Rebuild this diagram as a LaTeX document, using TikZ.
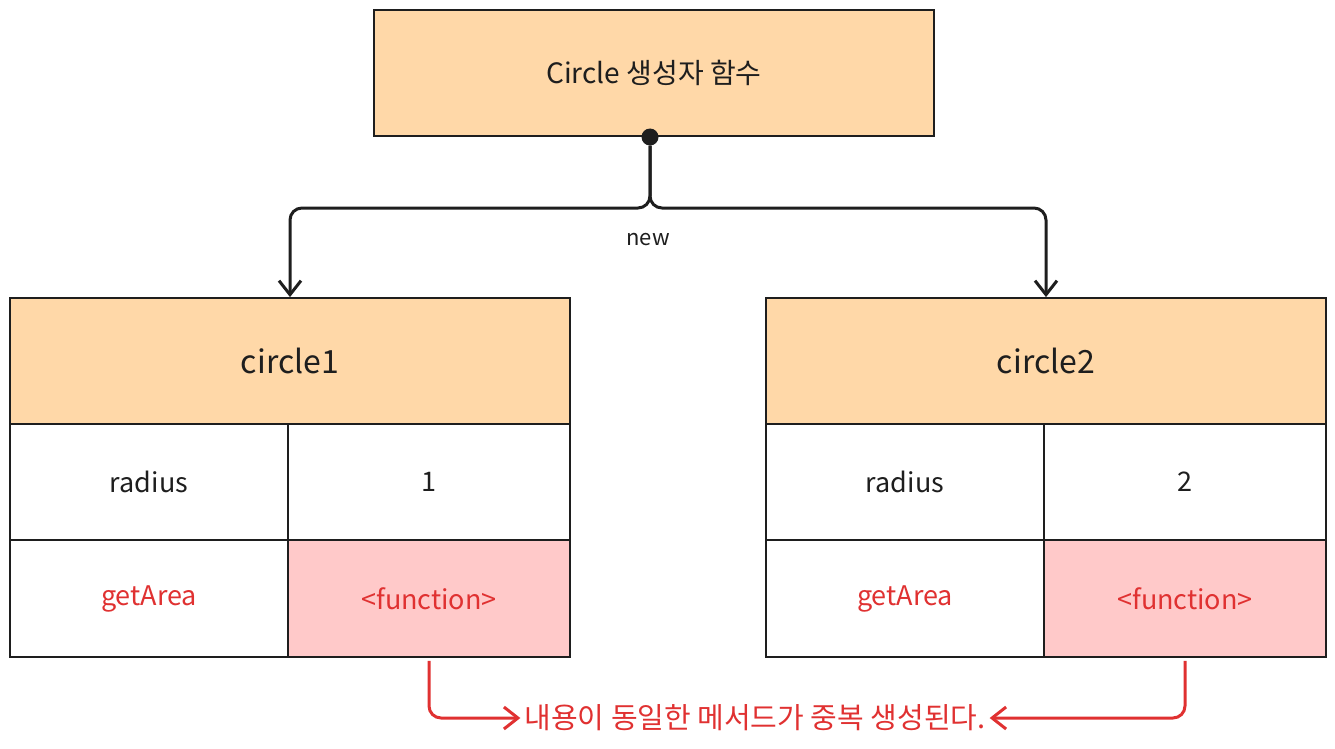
\documentclass[tikz,border=0pt]{standalone}
\usepackage{fontspec}
\setmainfont{Noto Sans CJK KR}
\usetikzlibrary{arrows.meta}
\definecolor{oranye}{HTML}{FFD8A8}
\definecolor{merahmuda}{HTML}{FFC9C9}
\definecolor{merah}{HTML}{E03131}
\definecolor{hitam}{HTML}{1E1E1E}
\begin{document}
\begin{tikzpicture}[x=1pt, y=-1pt,
      kotak/.style={draw=hitam, line width=1.8pt, fill=oranye, text=hitam, inner sep=0pt,
        minimum width=560pt, minimum height=126pt},
      sel/.style={draw=hitam, line width=1.8pt, fill=white, text=hitam, inner sep=0pt,
        minimum height=116pt, font=\fontsize{27}{31}\selectfont},
      panah/.style={draw=hitam, line width=3pt, rounded corners=12pt,
        -{Straight Barb[length=14pt, width=22pt, line width=3pt]}},
      panahmerah/.style={draw=merah, line width=3pt, rounded corners=12pt,
        -{Straight Barb[length=14pt, width=22pt, line width=3pt]}}]
    \useasboundingbox (0,0) rectangle (1335,749);
    \node[kotak, font=\fontsize{28}{32}\selectfont] (ctor) at (654,73) {Circle 생성자 함수};
    \node[circle, fill=hitam, inner sep=0pt, minimum size=17pt] (titik) at (650,137) {};
    % objek pertama
    \node[kotak, font=\fontsize{32}{36}\selectfont] (obj1) at (290,361) {circle1};
    \node[sel, minimum width=278pt] (kunci1) at (149,482) {radius};
    \node[sel, minimum width=282pt] (nilai1) at (429,482) {1};
    \node[sel, minimum width=278pt, minimum height=117pt, text=merah] (met1) at (149,598.5) {getArea};
    \node[sel, minimum width=282pt, minimum height=117pt, fill=merahmuda, text=merah] (fn1) at (429,598.5) {<function>};
    % objek kedua
    \node[kotak, font=\fontsize{32}{36}\selectfont] (obj2) at (1046,361) {circle2};
    \node[sel, minimum width=278pt] (kunci2) at (905,482) {radius};
    \node[sel, minimum width=282pt] (nilai2) at (1185,482) {2};
    \node[sel, minimum width=278pt, minimum height=117pt, text=merah] (met2) at (905,598.5) {getArea};
    \node[sel, minimum width=282pt, minimum height=117pt, fill=merahmuda, text=merah] (fn2) at (1185,598.5) {<function>};
    % panah new
    \coordinate (cabang) at (650,208);
    \node[text=hitam, font=\fontsize{22}{26}\selectfont] (baru) at (648,240) {new};
    \draw[panah] (titik) -- (cabang) -| (obj1.north);
    \draw[panah] (titik) -- (cabang) -| (obj2.north);
    % catatan
    \node[text=merah, font=\fontsize{29}{33}\selectfont, inner sep=4pt] (catatan) at (755,718) {내용이 동일한 메서드가 중복 생성된다.};
    \draw[panahmerah, shorten <=3pt] (fn1.south) |- (catatan.west);
    \draw[panahmerah, shorten <=3pt] (fn2.south) |- (catatan.east);
  \end{tikzpicture}
\end{document}
